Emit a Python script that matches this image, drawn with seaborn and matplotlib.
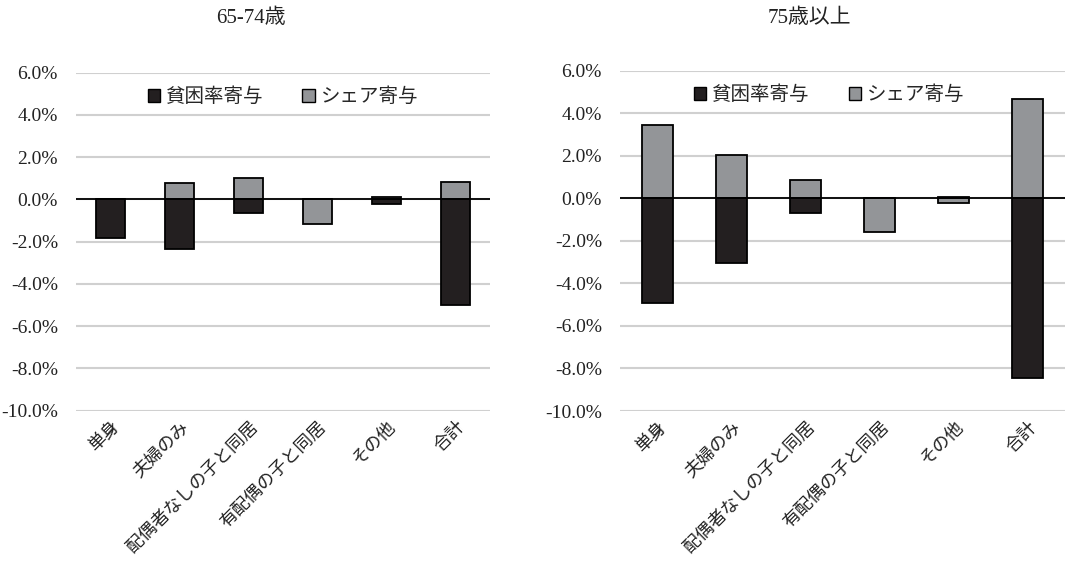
import numpy as np
import pandas as pd
import matplotlib
matplotlib.use("Agg")
import matplotlib.pyplot as plt
from matplotlib.patches import Patch
from matplotlib.ticker import FuncFormatter
import seaborn as sns

# ---- data ----
categories = ["単身", "夫婦のみ", "配偶者なしの子と同居", "有配偶の子と同居", "その他", "合計"]
series_names = ["貧困率寄与", "シェア寄与"]
titles = ["65-74歳", "75歳以上"]

# values in %
poverty_65_74 = [-1.83, -2.35, -0.62, 0.0, -0.22, -4.99]
share_65_74 = [0.0, 0.79, 1.0, -1.14, 0.13, 0.83]
poverty_75 = [-4.94, -3.06, -0.68, 0.0, 0.04, -8.46]
share_75 = [3.43, 2.04, 0.88, -1.57, -0.22, 4.68]

yticks = [6, 4, 2, 0, -2, -4, -6, -8, -10]

sns.set_theme(style="white")
plt.rcParams["font.family"] = ["Liberation Serif", "Noto Sans CJK JP", "DejaVu Sans"]

BLACK = "#231f20"
GRAY = "#939598"
colors = [BLACK, GRAY]

fig = plt.figure(figsize=(10.9, 5.62), dpi=100)
W, H = 1090, 562
ax_boxes = [
    (76 / W, (H - 410.7) / H, 414 / W, 338 / H),
    (620 / W, (H - 411) / H, 445 / W, 340.3 / H),
]
title_x = [251 / W, 809 / W]
legend_x = [0.5, 0.47]

panels = [(poverty_65_74, share_65_74), (poverty_75, share_75)]

for i, (box, (pov, shr)) in enumerate(zip(ax_boxes, panels)):
    ax = fig.add_axes(box)
    df = pd.DataFrame({"cat": categories, "p": pov, "s": shr})
    pos_base = np.zeros(len(categories))
    neg_base = np.zeros(len(categories))
    ax.set_axisbelow(True)
    for col, color in zip(["p", "s"], colors):
        vals = df[col].to_numpy()
        bottoms = np.where(vals >= 0, pos_base, neg_base)
        sns.barplot(data=df, x="cat", y=col, color=color, ax=ax, width=0.42,
                    edgecolor="black", linewidth=1.3, saturation=1,
                    bottom=bottoms, zorder=3, order=categories)
        pos_base = pos_base + np.where(vals > 0, vals, 0)
        neg_base = neg_base + np.where(vals < 0, vals, 0)
    ax.set_ylim(-10, 6)
    ax.set_xlim(-0.5, len(categories) - 0.5)
    ax.set_yticks(yticks)
    ax.yaxis.set_major_formatter(FuncFormatter(lambda v, p: f"{v:.1f}%"))
    ax.grid(axis="y", color="#d0d0d0", linewidth=1.5, zorder=0)
    ax.grid(axis="x", visible=False)
    ax.axhline(0, color="black", linewidth=1.3, zorder=4)
    for sp in ax.spines.values():
        sp.set_visible(False)
    ax.set_xlabel("")
    ax.set_ylabel("")
    ax.tick_params(axis="y", labelsize=14, pad=13, length=0, labelcolor="#222222")
    ax.tick_params(axis="x", length=0, pad=5)
    ax.set_xticks(range(len(categories)))
    ax.set_xticklabels(categories, rotation=45, ha="right", rotation_mode="anchor",
                       fontsize=12.8, family=["Noto Sans CJK JP"], color="#222222")
    handles = [Patch(facecolor=c, edgecolor="black", linewidth=1.0) for c in colors]
    ax.legend(handles, series_names, loc="center", bbox_to_anchor=(legend_x[i], 0.93),
              ncol=2, frameon=False, handlelength=0.65, handleheight=0.65,
              handletextpad=0.3, columnspacing=2.0,
              prop={"family": ["Noto Sans CJK JP"], "size": 14})
    fig.text(title_x[i], 1 - 18 / H, titles[i], ha="center", va="center",
             fontsize=15, family=["Liberation Serif", "Noto Sans CJK JP"], color="#222222")

fig.savefig("out.png", dpi=100, facecolor="white")
